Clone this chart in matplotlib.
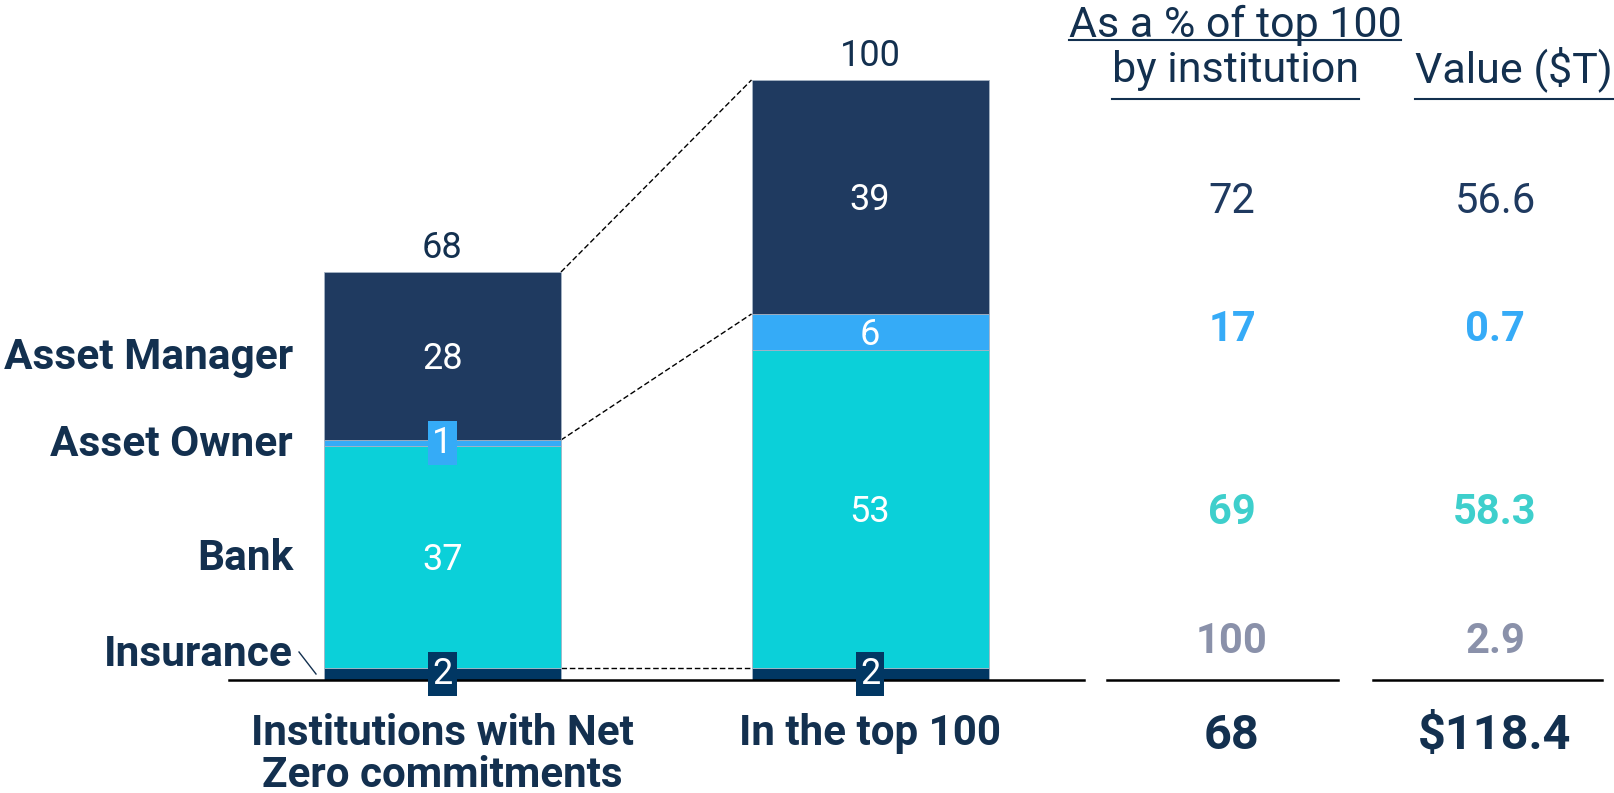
import matplotlib.pyplot as plt

plt.rcParams['font.family'] = ['Roboto', 'DejaVu Sans']

# stacked segments, bottom to top
segments = ['Insurance', 'Bank', 'Asset Owner', 'Asset Manager']
groups = ['Institutions with Net\nZero commitments', 'In the top 100']
net_zero = [2, 37, 1, 28]
top_100 = [2, 53, 6, 39]

# side table
pct_of_top = [100, 69, 17, 72]
value_tn = [2.9, 58.3, 0.7, 56.6]
total_count = 68
total_value = 118.4

navy = '#13304f'
seg_colors = ['#013763', '#0bd0d9', '#35abf7', '#1f3a60']
pct_colors = ['#8a91aa', '#3ecfcc', '#36abf7', '#1f3a60']

PX = 6.0  # pixels per institution on the y axis


def px(y):
    # pixel row (from top) -> y data value
    return (680 - y) / PX


def digit_half(size):
    # half the digit height of Roboto at this size, in y data units
    return size * 0.711 * 100 / 72 / 2 / PX


fig = plt.figure(figsize=(16.14, 7.93), dpi=100)
ax = fig.add_axes([0, 0, 1, 1])
ax.set_xlim(0, 1614)
ax.set_ylim(px(793), px(0))
ax.axis('off')

bar_x = [442.5, 870]
bar_w = 237

for xc, vals in zip(bar_x, [net_zero, top_100]):
    bottom = 0
    for i, v in enumerate(vals):
        ax.bar(xc, v, width=bar_w, bottom=bottom, color=seg_colors[i],
               edgecolor='#a5b3c4', linewidth=0.6, zorder=2)
        mid = bottom + v / 2
        if v <= 2:
            ax.text(xc, mid, str(v), color='white', fontsize=26, ha='center', va='center',
                    zorder=4, bbox=dict(boxstyle='square,pad=0.12', fc=seg_colors[i], ec='none'))
        else:
            ax.text(xc, mid - digit_half(26), str(v), color='white', fontsize=26,
                    ha='center', va='baseline', zorder=4)
        bottom += v
    ax.text(xc, bottom + 2.3, str(bottom), color=navy, fontsize=26, ha='center', va='baseline')

# dashed connectors between the two bars
left_edge = bar_x[0] + bar_w / 2
right_edge = bar_x[1] - bar_w / 2
for k in [1, 3, 4]:
    ax.plot([left_edge, right_edge], [sum(net_zero[:k]), sum(top_100[:k])],
            color='black', lw=1, ls=(0, (4, 2)), zorder=1)

# segment names on the left
name_rows = [666, 570, 456, 369]
for name, row in zip(segments, name_rows):
    ax.text(293, px(row), name, color=navy, fontsize=30.5, fontweight='bold',
            ha='right', va='baseline')
ax.plot([299, 316], [px(652), px(674)], color=navy, lw=1)

# baseline and group labels
ax.plot([229, 1084], [0, 0], color='black', lw=1.8, zorder=3)
for xc, g in zip(bar_x, groups):
    for j, line in enumerate(g.split('\n')):
        ax.text(xc, px(745 + 42 * j), line, color=navy, fontsize=30.3, fontweight='bold',
                ha='center', va='baseline')

# side table
col1, col2 = 1232, 1495
table_rows = [638.5, 509, 326, 198]
for i, row in enumerate(table_rows):
    w = 'normal' if segments[i] == 'Asset Manager' else 'bold'
    y = px(row) - digit_half(30)
    ax.text(col1, y, str(pct_of_top[i]), color=pct_colors[i], fontsize=30, fontweight=w,
            ha='center', va='baseline')
    ax.text(col2, y, f'{value_tn[i]:.1f}', color=pct_colors[i], fontsize=30, fontweight=w,
            ha='center', va='baseline')

ax.plot([1107, 1338], [0, 0], color='black', lw=1.8)
ax.plot([1373, 1602], [0, 0], color='black', lw=1.8)
ax.text(col1, px(749), str(total_count), color=navy, fontsize=35, fontweight='bold',
        ha='center', va='baseline')
ax.text(col2, px(749), f'${total_value:.1f}', color=navy, fontsize=35, fontweight='bold',
        ha='center', va='baseline')

# underlined column headers
headers = [(1235, 37, 'As a % of top 100', 40),
           (1235, 82, 'by institution', 99),
           (1514, 82, 'Value ($T)', 99)]
fig.canvas.draw()
renderer = fig.canvas.get_renderer()
inv = ax.transData.inverted()
for x, row, s, under in headers:
    t = ax.text(x, px(row), s, color=navy, fontsize=31, ha='center', va='baseline')
    bb = t.get_window_extent(renderer)
    x0 = inv.transform((bb.x0, 0))[0]
    x1 = inv.transform((bb.x1, 0))[0]
    ax.plot([x0, x1], [px(under), px(under)], color=navy, lw=1.5)

fig.savefig('out.png', dpi=100)
